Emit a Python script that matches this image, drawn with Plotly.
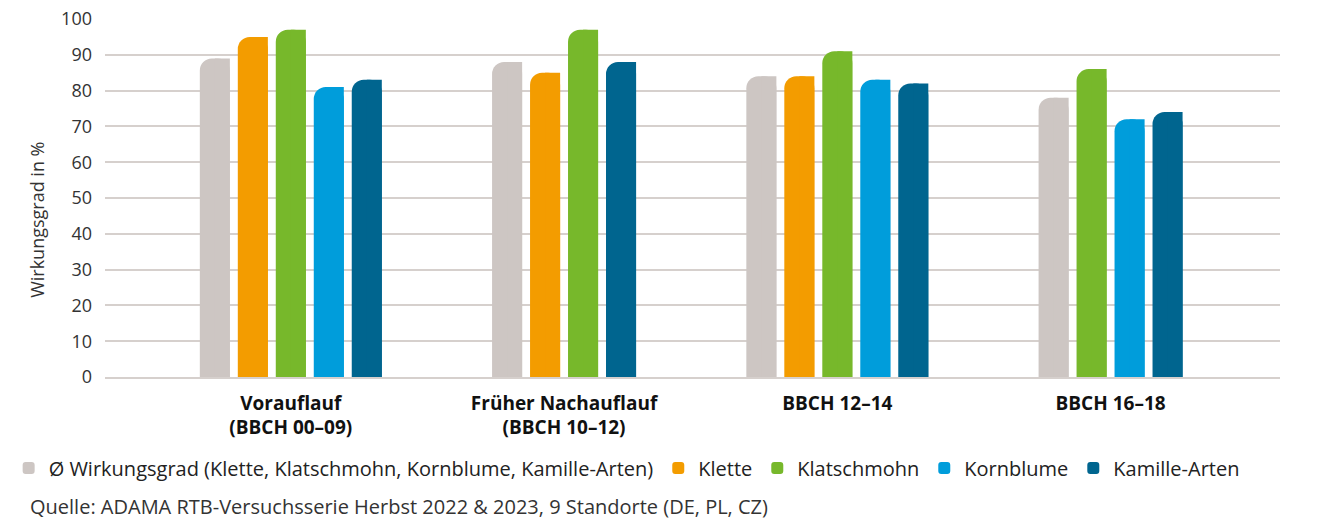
import plotly.graph_objects as go

categories = ["<b>Vorauflauf</b><br><b>(BBCH 00–09)</b>",
              "<b>Früher Nachauflauf</b><br><b>(BBCH 10–12)</b>",
              "<b>BBCH 12–14</b>",
              "<b>BBCH 16–18</b>"]
series_names = ["Ø Wirkungsgrad (Klette, Klatschmohn, Kornblume, Kamille-Arten)",
                "Klette", "Klatschmohn", "Kornblume", "Kamille-Arten"]
avg = [89, 88, 84, 78]
klette = [95, 85, 84, None]
klatschmohn = [97, 97, 91, 86]
kornblume = [81, None, 83, 72]
kamille = [83, 88, 82, 74]
colors = ["#cdc6c3", "#f39c00", "#77b82b", "#009ddb", "#00658f"]

values = [avg, klette, klatschmohn, kornblume, kamille]

step = 0.139
width = 0.110

offsets = [[None] * len(categories) for _ in values]
for ci in range(len(categories)):
    present = [si for si in range(len(values)) if values[si][ci] is not None]
    n = len(present)
    for k, si in enumerate(present):
        offsets[si][ci] = (k - (n - 1) / 2) * step

FONT = "Open Sans, Lato, sans-serif"

fig = go.Figure()
for si, (name, vals, col) in enumerate(zip(series_names, values, colors)):
    offs = [o if o is not None else 0 for o in offsets[si]]
    fig.add_trace(go.Bar(
        x=categories, y=vals, name=name,
        marker=dict(color=col, cornerradius=12, line=dict(width=0)),
        offset=[o - width / 2 for o in offs], width=[width] * len(categories),
        hoverinfo="skip",
    ))
    fig.add_trace(go.Bar(
        x=categories, y=vals, showlegend=False,
        marker=dict(color=col, line=dict(width=0)),
        offset=[o for o in offs], width=[width / 2] * len(categories),
        hoverinfo="skip",
    ))

fig.update_layout(
    width=1320, height=520,
    barmode="overlay",
    paper_bgcolor="white", plot_bgcolor="white",
    margin=dict(l=105, r=40, t=19, b=143, autoexpand=False),
    font=dict(family=FONT, size=18, color="#222222"),
    showlegend=True,
    legend=dict(orientation="h", xref="paper", x=-0.082, xanchor="left",
                y=-0.254, yanchor="middle", font=dict(family=FONT, size=20, color="#222222"),
                itemwidth=30, traceorder="normal", tracegroupgap=0),
    xaxis=dict(range=[-0.68, 3.62], showgrid=False, showline=True, automargin=False,
               linecolor="#d6d0cd", linewidth=1.5,
               ticks="outside", ticklen=8, tickcolor="rgba(0,0,0,0)",
               tickfont=dict(family=FONT, size=19, color="#111111")),
    yaxis=dict(range=[0, 100], dtick=10, showgrid=True, gridcolor="#d6d0cd",
               gridwidth=1.5, zeroline=False, showline=False, automargin=False,
               ticklabelstandoff=12,
               tickfont=dict(family=FONT, size=18, color="#333333")),
    annotations=[
        dict(text="Wirkungsgrad in %", xref="paper", yref="paper",
             x=-0.058, y=0.4385, xanchor="center", yanchor="middle",
             textangle=-90, showarrow=False,
             font=dict(family=FONT, size=18, color="#333333")),
        dict(text="Quelle: ADAMA RTB-Versuchsserie Herbst 2022 & 2023, 9 Standorte (DE, PL, CZ)",
             xref="paper", yref="paper", x=-0.0655, y=-0.363,
             xanchor="left", yanchor="middle", showarrow=False,
             font=dict(family=FONT, size=20, color="#333333"))],
)

fig.write_html("out.html", config={"displayModeBar": False},
               post_script="document.body.style.margin='0';document.body.style.padding='0';")
